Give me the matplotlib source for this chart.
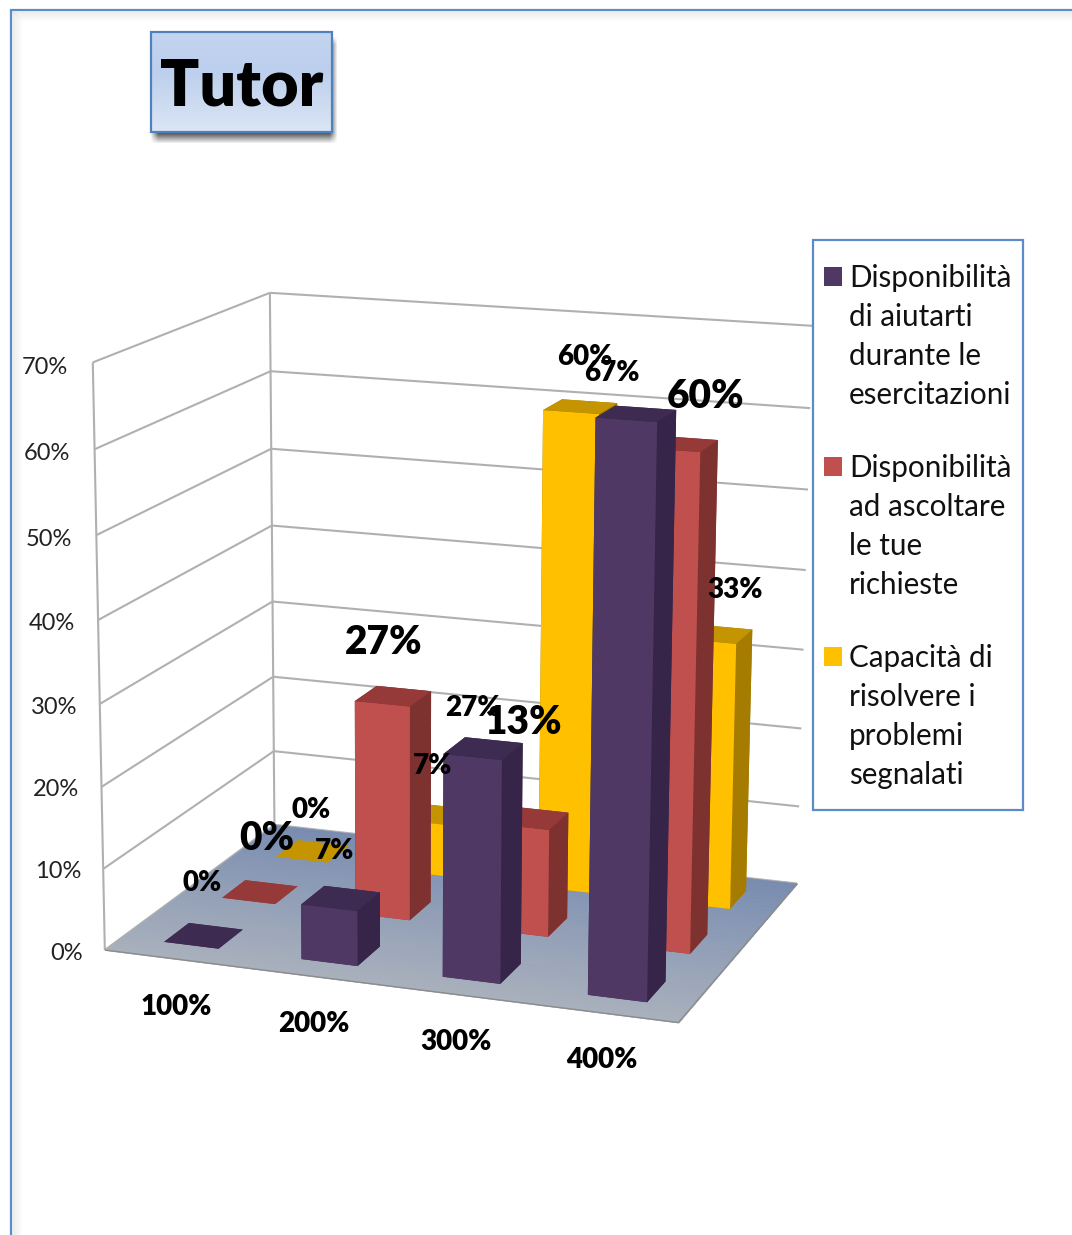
import numpy as np
import matplotlib
matplotlib.use("Agg")
import matplotlib.pyplot as plt
from matplotlib.patches import Rectangle
from mpl_toolkits.mplot3d.art3d import Poly3DCollection, Line3DCollection

plt.rcParams['font.family'] = ['Lato', 'DejaVu Sans']

categories = ["100%", "200%", "300%", "400%"]
purple_vals = [0, 6.7, 26.7, 66.7]
red_vals = [0, 26.7, 13.3, 60]
yellow_vals = [0, 6.7, 60, 33.3]
z_ticks = [0, 10, 20, 30, 40, 50, 60, 70]
legend_lines = [
    ["Disponibilità", "di aiutarti", "durante le", "esercitazioni"],
    ["Disponibilità", "ad ascoltare", "le tue", "richieste"],
    ["Capacità di", "risolvere i", "problemi", "segnalati"],
]

# front, side, top colours of each series
purple_cols = ("#4f3864", "#362548", "#3e2b52")
red_cols = ("#c0504d", "#7d3230", "#953a38")
yellow_cols = ("#ffc000", "#a67c00", "#c49500")

W, H = 1072, 1235
fig = plt.figure(figsize=(W / 100, H / 100), dpi=100, facecolor="white")

# camera fitted on where the corners of the chart box land in the picture
box_corners = [(0, 0, 0), (4, 0, 0), (4, 3, 0), (0, 3, 0), (0, 0, 70), (0, 3, 70), (4, 3, 70)]
box_pixels = [(107, 950), (678, 1023), (798, 883), (272, 825), (91, 362), (272, 293), (812, 326)]
rows = []
for (x, y, z), (u, v) in zip(box_corners, box_pixels):
    rows.append([x, y, z, 1, 0, 0, 0, 0, -u * x, -u * y, -u * z, -u])
    rows.append([0, 0, 0, 0, x, y, z, 1, -v * x, -v * y, -v * z, -v])
cam = np.linalg.svd(np.array(rows, dtype=float))[2][-1].reshape(3, 4)
cam = cam / cam[2, 3]
M = np.array([cam[0], cam[1], [-1 / 4, 1 / 3, -1 / 70, 0], cam[2]])

ax = fig.add_axes([0, 0, 1, 1], projection="3d")
ax.get_proj = lambda: M
ax.computed_zorder = False
ax.set_axis_off()
ax.patch.set_alpha(0)
# the 3d axes is forced square, so it covers 1072x1072 in the middle of the figure
ax.viewLim.intervalx = (0, W)
ax.viewLim.intervaly = ((H + W) / 2, (H - W) / 2)

# walls
grid_col = "#b0b0b0"
wall_segs = []
for z in z_ticks:
    wall_segs.append([(0, 0, z), (0, 3, z)])
    wall_segs.append([(0, 3, z), (4, 3, z)])
wall_segs.append([(0, 0, 0), (0, 0, 70)])
wall_segs.append([(0, 3, 0), (0, 3, 70)])
ax.add_collection3d(Line3DCollection(wall_segs, colors=grid_col, linewidths=1.5, zorder=1))

# floor, cut in strips for the gradient
front_col = np.array([0xa9, 0xb0, 0xbc]) / 255
back_col = np.array([0x78, 0x8c, 0xb0]) / 255
n_strips = 40
for k in range(n_strips):
    y0, y1 = 3 * k / n_strips, 3 * (k + 1) / n_strips
    c = front_col + (back_col - front_col) * (k + 0.5) / n_strips
    ax.add_collection3d(Poly3DCollection([[(0, y0, 0), (4, y0, 0), (4, y1, 0), (0, y1, 0)]],
                                         facecolor=c, edgecolor=c, linewidth=0.5, zorder=2))
floor_edge = [[(0, 0, 0), (4, 0, 0)], [(4, 0, 0), (4, 3, 0)]]
ax.add_collection3d(Line3DCollection(floor_edge, colors="#8c8c8c", linewidths=1.0, zorder=2.5))

# bars, back row first
bar_a, bar_w = 0.305, 0.40
bar_b, bar_d = 0.29, 0.42
series = [(2, yellow_vals, yellow_cols), (1, red_vals, red_cols), (0, purple_vals, purple_cols)]
order = 3
for row, vals, cols in series:
    front, side, top = cols
    for i, val in enumerate(vals):
        ax.bar3d(i + bar_a, row + bar_b, 0, bar_w, bar_d, val,
                 color=[top, top, front, side, side, side],
                 shade=False, linewidth=0, zorder=order)
        order += 1

# everything flat goes on a second axes counted in pixels
ov = fig.add_axes([0, 0, 1, 1], zorder=5)
ov.patch.set_alpha(0)
ov.set_axis_off()

# slide frame
frame_col = "#5b8bc8"
for k in range(10):
    a = 0.09 * (1 - k / 10)
    ov.plot([13 + k, 13 + k], [12 + k, H], color="#808080", alpha=a, lw=1.2)
    ov.plot([13 + k, W], [12 + k, 12 + k], color="#808080", alpha=a, lw=1.2)
ov.plot([11, 11, W], [H, 10, 10], color=frame_col, lw=1.6, solid_joinstyle="miter")

# title box with a soft shadow
sx = np.linspace(140, 350, 210)
sy = np.linspace(25, 155, 130)
ramp_x = np.clip((sx - 150) / 8, 0, 1) * np.clip((338 - sx) / 8, 0, 1)
ramp_y = np.clip((sy - 36) / 8, 0, 1) * np.clip((144 - sy) / 10, 0, 1)
shadow = np.zeros((len(sy), len(sx), 4))
shadow[..., :3] = 0.15
shadow[..., 3] = 0.75 * np.outer(ramp_y, ramp_x)
ov.imshow(shadow, extent=(140, 350, 155, 25), aspect="auto", zorder=1)
grad_stops = np.array([[0xc3, 0xd4, 0xef], [0xbc, 0xcf, 0xec], [0xdc, 0xe6, 0xf5]]) / 255
grad = np.array([np.interp(np.linspace(0, 1, 100), [0, 0.4, 1], grad_stops[:, c]) for c in range(3)]).T
ov.imshow(grad[:, None, :], extent=(151, 332, 132, 32), aspect="auto", zorder=2)
ov.add_patch(Rectangle((151, 32), 181, 100, facecolor="none", edgecolor="#4f81bd", lw=1.6, zorder=3))
ov.text(241.5, 87, "Tutor", fontsize=46.5, fontweight="heavy", ha="center", va="center", color="black", zorder=4)

# legend
ov.add_patch(Rectangle((813, 240), 210, 570, facecolor="white", edgecolor=frame_col, lw=1.6, zorder=3))
legend_cols = [purple_cols[0], red_cols[0], yellow_cols[0]]
legend_y = [276, 466, 656]
for lines, col, y0 in zip(legend_lines, legend_cols, legend_y):
    ov.add_patch(Rectangle((824, y0 - 9), 18, 19, facecolor=col, edgecolor="none", zorder=4))
    for k, line in enumerate(lines):
        ov.text(849, y0 + 2 + 39 * k, line, fontsize=21.3, ha="left", va="center", color="#111111", zorder=4)

# value axis labels
z_label_pos = [(67, 953), (58, 872), (56, 790), (54, 708), (52, 624), (49, 540), (47, 454), (45, 368)]
for z, (x, y) in zip(z_ticks, z_label_pos):
    ov.text(x, y, f"{z}%", fontsize=17, ha="center", va="center", color="#222222")

# category labels
cat_pos = [(176, 1007), (314, 1024), (456, 1042), (602, 1060)]
for lab, (x, y) in zip(categories, cat_pos):
    ov.text(x, y, lab, fontsize=20, fontweight="heavy", ha="center", va="center", color="black")

# data labels
purple_pos = [(202, 883), (335, 851), (473, 708), (612, 373)]
red_pos = [(267, 838), (384, 642), (523, 723), (706, 397)]
yellow_pos = [(311, 810), (433, 766), (585, 357), (735, 590)]
for vals, pos, size in [(purple_vals, purple_pos, 20), (red_vals, red_pos, 28), (yellow_vals, yellow_pos, 20)]:
    for val, (x, y) in zip(vals, pos):
        ov.text(x, y, f"{val:.0f}%", fontsize=size, fontweight="heavy", ha="center", va="center", color="black", zorder=6)

ov.set_xlim(0, W)
ov.set_ylim(H, 0)

fig.savefig("out.png", dpi=100)
